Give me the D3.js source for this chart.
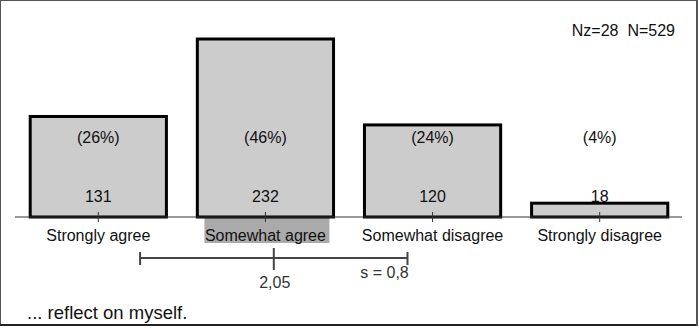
<!DOCTYPE html>
<html>
<head>
<meta charset="utf-8">
<script src="https://cdn.jsdelivr.net/npm/d3@7"></script>
<style>
  body { margin: 0; background: #fff; }
  svg { display: block; font-family: "Liberation Sans", Arial, sans-serif; }
</style>
</head>
<body>
<div id="chart"></div>
<script>
const categories = ["Strongly agree", "Somewhat agree", "Somewhat disagree", "Strongly disagree"];
const counts = [131, 232, 120, 18];
const percents = ["(26%)", "(46%)", "(24%)", "(4%)"];
const meanValue = 2.05;
const sdValue = 0.8;
const meanLabel = "2,05";
const sdLabel = "s = 0,8";
const nLabel = "Nz=28  N=529";
const title = "... reflect on myself.";
const highlighted = "Somewhat agree";

const W = 699, H = 328;
const baseY = 217;

const svg = d3.select("#chart").append("svg")
    .attr("width", W)
    .attr("height", H);

// frame
svg.append("rect")
    .attr("x", 0.5).attr("y", 0.5)
    .attr("width", W - 2.5).attr("height", H - 3.5)
    .attr("fill", "none")
    .attr("stroke", "#555")
    .attr("stroke-width", 1);
svg.append("line")
    .attr("x1", 0).attr("x2", W - 1)
    .attr("y1", 325).attr("y2", 325)
    .attr("stroke", "#222").attr("stroke-width", 2);
svg.append("line")
    .attr("x1", 697).attr("x2", 697)
    .attr("y1", 0).attr("y2", 326)
    .attr("stroke", "#555").attr("stroke-width", 2);

// scales
const x = d3.scaleBand()
    .domain(categories)
    .range([16, 682])
    .paddingInner(0.185)
    .paddingOuter(0.085);

const y = d3.scaleLinear()
    .domain([0, 232])
    .range([baseY, 39]);

// position scale for mean / sd (1..4 on category centres)
const pos = d3.scaleLinear()
    .domain([1, 4])
    .range([x(categories[0]) + x.bandwidth() / 2, x(categories[3]) + x.bandwidth() / 2]);

// highlight behind the category of the mean
const hx = x(highlighted) + x.bandwidth() / 2;
svg.append("rect")
    .attr("x", hx - 61)
    .attr("y", baseY + 1)
    .attr("width", 125)
    .attr("height", 25)
    .attr("fill", "#aaaaaa");

// bars
svg.selectAll("rect.bar")
    .data(counts)
    .enter()
    .append("rect")
    .attr("class", "bar")
    .attr("x", (d, i) => x(categories[i]))
    .attr("y", d => y(d))
    .attr("width", x.bandwidth())
    .attr("height", d => baseY - y(d))
    .attr("fill", "#cccccc")
    .attr("stroke", "#000")
    .attr("stroke-width", 3);

// baseline axis
svg.append("line")
    .attr("x1", 15).attr("x2", 682)
    .attr("y1", baseY).attr("y2", baseY)
    .attr("stroke", "#333").attr("stroke-width", 1);

// ticks
svg.selectAll("line.tick")
    .data(categories)
    .enter()
    .append("line")
    .attr("class", "tick")
    .attr("x1", d => x(d) + x.bandwidth() / 2)
    .attr("x2", d => x(d) + x.bandwidth() / 2)
    .attr("y1", baseY - 5).attr("y2", baseY + 5)
    .attr("stroke", "#333").attr("stroke-width", 1);

// percent labels
svg.selectAll("text.pct")
    .data(percents)
    .enter()
    .append("text")
    .attr("class", "pct")
    .attr("x", (d, i) => x(categories[i]) + x.bandwidth() / 2)
    .attr("y", 143)
    .attr("text-anchor", "middle")
    .attr("font-size", 16)
    .attr("fill", "#111")
    .text(d => d);

// count labels
svg.selectAll("text.cnt")
    .data(counts)
    .enter()
    .append("text")
    .attr("class", "cnt")
    .attr("x", (d, i) => x(categories[i]) + x.bandwidth() / 2)
    .attr("y", 202)
    .attr("text-anchor", "middle")
    .attr("font-size", 16)
    .attr("fill", "#111")
    .text(d => d);

// category labels
svg.selectAll("text.cat")
    .data(categories)
    .enter()
    .append("text")
    .attr("class", "cat")
    .attr("x", d => x(d) + x.bandwidth() / 2)
    .attr("y", 241)
    .attr("text-anchor", "middle")
    .attr("font-size", 16)
    .attr("fill", "#111")
    .text(d => d);

// mean and sd
const sdY = 258;
const lo = pos(meanValue - sdValue), hi = pos(meanValue + sdValue), mx = pos(meanValue);
svg.append("line")
    .attr("x1", lo).attr("x2", hi)
    .attr("y1", sdY).attr("y2", sdY)
    .attr("stroke", "#444").attr("stroke-width", 2);
[lo, hi].forEach(v => {
    svg.append("line")
        .attr("x1", v).attr("x2", v)
        .attr("y1", sdY - 6).attr("y2", sdY + 7)
        .attr("stroke", "#444").attr("stroke-width", 2);
});
svg.append("line")
    .attr("x1", mx).attr("x2", mx)
    .attr("y1", sdY - 10).attr("y2", sdY + 12)
    .attr("stroke", "#444").attr("stroke-width", 2);

svg.append("text")
    .attr("x", mx + 1)
    .attr("y", 288)
    .attr("text-anchor", "middle")
    .attr("font-size", 16)
    .attr("fill", "#333")
    .text(meanLabel);

svg.append("text")
    .attr("x", hi - 23)
    .attr("y", 278)
    .attr("text-anchor", "middle")
    .attr("font-size", 16)
    .attr("fill", "#333")
    .text(sdLabel);

// N label
svg.append("text")
    .attr("x", 675)
    .attr("y", 36)
    .attr("text-anchor", "end")
    .attr("font-size", 16)
    .attr("fill", "#111")
    .attr("xml:space", "preserve")
    .style("white-space", "pre")
    .text(nLabel);

// title
svg.append("text")
    .attr("x", 27)
    .attr("y", 319)
    .attr("font-size", 18.5)
    .attr("fill", "#111")
    .text(title);
</script>
</body>
</html>
